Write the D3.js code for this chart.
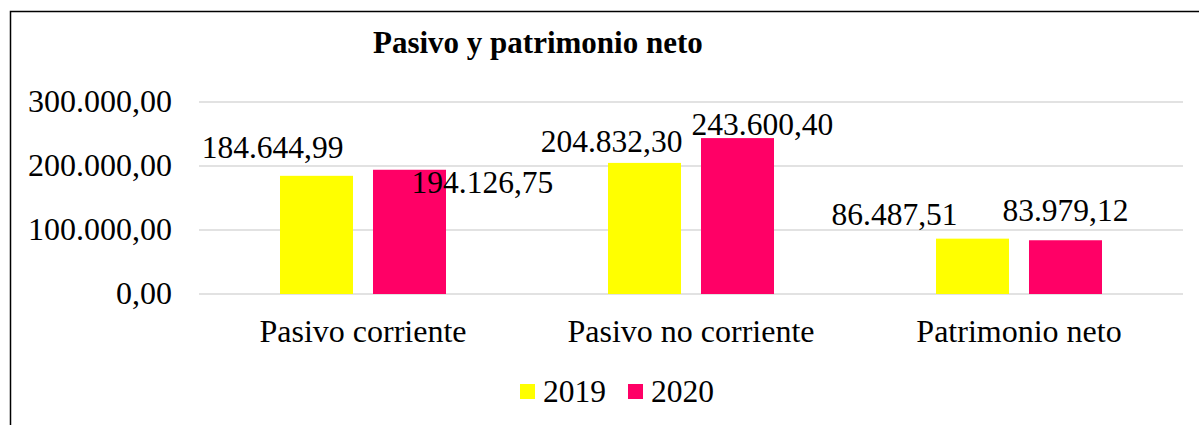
<!DOCTYPE html>
<html>
<head>
<meta charset="utf-8">
<script src="https://d3js.org/d3.v7.min.js"></script>
<style>
  body { margin: 0; background: #fff; }
  text { font-family: "Liberation Serif", "Times New Roman", serif; fill: #000; }
</style>
</head>
<body>
<div class="chart"></div>
<script>
  // data
  const categories = ["Pasivo corriente", "Pasivo no corriente", "Patrimonio neto"];
  const years = ["2019", "2020"];
  const values2019 = [184644.99, 204832.30, 86487.51];
  const values2020 = [194126.75, 243600.40, 83979.12];
  const yTicks = [0, 100000, 200000, 300000];

  // hand-placed label offsets (label centre/baseline relative to bar centre/top)
  const labelOffsets = {
    "2019": [[-44, -18], [-33, -11], [-78, -14]],
    "2020": [[73, 23], [25, -3], [0, -19]]
  };

  const width = 1199, height = 425;
  const margin = { top: 102, right: 16, bottom: 131, left: 199 };

  const svg = d3.select(".chart").append("svg")
    .attr("width", width)
    .attr("height", height);

  // outer frame (right and bottom edges fall outside the view)
  svg.append("rect")
    .attr("x", 10.5).attr("y", 11.5)
    .attr("width", 1400).attr("height", 600)
    .attr("fill", "none")
    .attr("stroke", "#000")
    .attr("stroke-width", 1.5);

  const numFmt = d3.formatLocale({ decimal: ",", thousands: ".", grouping: [3], currency: ["", ""] }).format(",.2f");

  const x0 = d3.scaleBand()
    .domain(categories)
    .range([margin.left, width - margin.right]);

  const x1 = d3.scaleBand()
    .domain(years)
    .range([0, x0.bandwidth()])
    .paddingInner(0.215)
    .paddingOuter(0.871);

  const y = d3.scaleLinear()
    .domain([0, 300000])
    .range([height - margin.bottom, margin.top]);

  const color = d3.scaleOrdinal().domain(years).range(["#FFFF00", "#FF0066"]);

  // gridlines
  svg.append("g")
    .selectAll("line")
    .data(yTicks)
    .join("line")
    .attr("x1", margin.left)
    .attr("x2", width - margin.right)
    .attr("y1", d => y(d))
    .attr("y2", d => y(d))
    .attr("stroke", "#d9d9d9")
    .attr("stroke-width", 1.5);

  // y axis labels
  svg.append("g")
    .selectAll("text")
    .data(yTicks)
    .join("text")
    .attr("x", 172)
    .attr("y", d => y(d))
    .attr("dy", "0.3em")
    .attr("text-anchor", "end")
    .style("font-size", "32px")
    .text(d => numFmt(d));

  const rows = categories.map((c, i) => ({ cat: c, i: i, vals: { "2019": values2019[i], "2020": values2020[i] } }));

  const groups = svg.append("g")
    .selectAll("g")
    .data(rows)
    .join("g")
    .attr("transform", d => `translate(${x0(d.cat)},0)`);

  groups.selectAll("rect")
    .data(d => years.map(yr => ({ yr: yr, v: d.vals[yr] })))
    .join("rect")
    .attr("x", d => x1(d.yr))
    .attr("width", x1.bandwidth())
    .attr("y", d => y(d.v))
    .attr("height", d => y(0) - y(d.v))
    .attr("fill", d => color(d.yr));

  groups.selectAll("text.val")
    .data(d => years.map(yr => ({ yr: yr, v: d.vals[yr], off: labelOffsets[yr][d.i] })))
    .join("text")
    .attr("class", "val")
    .attr("x", d => x1(d.yr) + x1.bandwidth() / 2 + d.off[0])
    .attr("y", d => y(d.v) + d.off[1])
    .attr("text-anchor", "middle")
    .style("font-size", "31.5px")
    .text(d => numFmt(d.v));

  // category labels
  svg.append("g")
    .selectAll("text")
    .data(categories)
    .join("text")
    .attr("x", d => x0(d) + x0.bandwidth() / 2)
    .attr("y", 342)
    .attr("text-anchor", "middle")
    .style("font-size", "32px")
    .text(d => d);

  // title
  svg.append("text")
    .attr("x", 373)
    .attr("y", 53)
    .style("font-size", "31px")
    .style("font-weight", "bold")
    .text("Pasivo y patrimonio neto");

  // legend
  const legend = svg.append("g")
    .selectAll("g")
    .data(years)
    .join("g")
    .attr("transform", (d, i) => `translate(${520 + i * 108},384)`);

  legend.append("rect")
    .attr("width", 15)
    .attr("height", 15)
    .attr("fill", d => color(d));

  legend.append("text")
    .attr("x", 23)
    .attr("y", 18)
    .style("font-size", "31.5px")
    .text(d => d);
</script>
</body>
</html>
